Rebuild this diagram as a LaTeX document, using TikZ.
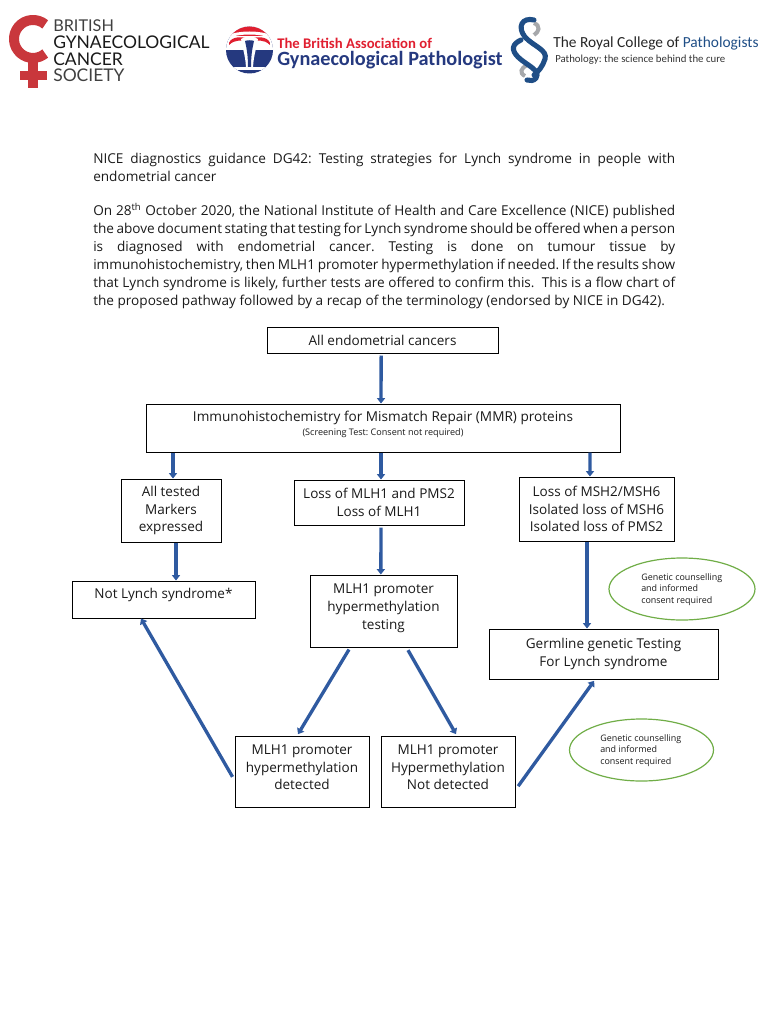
\documentclass[tikz,border=0pt]{standalone}
\usepackage{fontspec}
\setmainfont{Open Sans}
\newfontfamily\logofont{Carlito}
\newfontfamily\latofont{Lato}
\usetikzlibrary{arrows.meta}
\definecolor{arrowblue}{HTML}{2F5AA0}
\definecolor{okgreen}{HTML}{70AD47}
\definecolor{bgcsred}{HTML}{C9373C}
\definecolor{bagpred}{HTML}{E01F30}
\definecolor{bagpblue}{HTML}{25397F}
\definecolor{rcblue}{HTML}{1F4E86}
\definecolor{rcgrey}{HTML}{A6A8AB}
\definecolor{inktext}{HTML}{1A1A1A}
\newcommand{\lifted}[1]{\raisebox{2.25pt}[\height][\depth]{\begin{tabular}{@{}c@{}}#1\end{tabular}}}
\tikzset{
  flowbox/.style={draw=black,line width=0.75pt,fill=white,minimum width=#1,align=center,inner sep=0pt,font=\fontsize{10.15}{13.2}\selectfont,text=inktext},
  flowarrow/.style={draw=arrowblue,line width=2.5pt,-{Triangle[length=4pt,width=6pt]}},
  smallnote/.style={font=\fontsize{6.7}{8.8}\selectfont,align=left,anchor=west,inner sep=0pt,text=inktext},
  para/.style={anchor=north west,text width=436.5pt,inner sep=0pt,align=justify,font=\fontsize{10.2}{13.5}\selectfont,text=inktext},
  logoline/.style={anchor=west,inner sep=0pt},
}
\frenchspacing
\begin{document}
\begin{tikzpicture}[x=0.75pt,y=-0.75pt]
\useasboundingbox (0,0) rectangle (768,1024);
% BGCS logo
\draw[bgcsred,line width=7.5pt] (45.2,24.4) arc[start angle=-50,end angle=-310,radius=19];
\fill[bgcsred] (28,60) rectangle (38,88);
\fill[bgcsred] (20,71) rectangle (47,80);
\node[logoline,font=\latofont\fontsize{12.2}{12}\selectfont,text=black!75] (bgcs1) at (53,26) {BRITISH};
\node[logoline,font=\latofont\fontsize{13.1}{12}\selectfont,text=black!90] (bgcs2) at (53,42) {GYNAECOLOGICAL};
\node[logoline,font=\latofont\fontsize{13.1}{12}\selectfont,text=black!90] (bgcs3) at (53,59) {CANCER};
\node[logoline,font=\latofont\fontsize{13.1}{12}\selectfont,text=black!75] (bgcs4) at (53,75) {SOCIETY};
% BAGP logo
\fill[bagpblue] (249.5,50) circle[radius=23.5];
\begin{scope}
\clip (249.5,50) circle[radius=23.5];
\fill[white] (220,24) rectangle (280,50);
\fill[bagpred] (226,26) rectangle (273,36);
\fill[bagpred] (229,45) .. controls (228,38) and (240,35) .. (248,39) -- (251,39) .. controls (259,35) and (271,38) .. (270,45) .. controls (264,39) and (256,40) .. (250,42) .. controls (243,40) and (235,39) .. (229,45) -- cycle;
\fill[white] (226,36) .. controls (238,30) and (261,30) .. (273,36) -- (273,39) .. controls (261,33) and (238,33) .. (226,39) -- cycle;
\fill[white] (241,39) .. controls (245,36) and (254,36) .. (258,39) .. controls (256,50) and (253,58) .. (253,70) -- (246,70) .. controls (246,58) and (243,50) .. (241,39) -- cycle;
\fill[bagpblue] (245,41) .. controls (247,40) and (252,40) .. (254,41) .. controls (252,50) and (251,56) .. (251,68) -- (248,68) .. controls (248,56) and (247,50) .. (245,41) -- cycle;
\fill[white] (232,67) rectangle (267,70);
\end{scope}
\node[logoline,font=\logofont\bfseries\fontsize{11.05}{12}\selectfont,text=bagpred] (bagp1) at (277,43) {The British Association of};
\node[logoline,font=\logofont\bfseries\fontsize{15.2}{16}\selectfont,text=bagpblue] (bagp2) at (277,60) {Gynaecological Pathologist};
% RCPath logo
\draw[rcgrey,line width=3pt] (534,23) .. controls (541,26) and (539,32) .. (534,35);
\draw[rcgrey,line width=3pt] (525,76) .. controls (519,73) and (521,68) .. (527,65);
\draw[rcblue,line width=3.8pt,line cap=round] (534,20) .. controls (522,17) and (517,27) .. (525,37) .. controls (533,46) and (548,50) .. (545,59) .. controls (543,66) and (538,72) .. (534,75);
\draw[rcblue,line width=3.8pt,line cap=round] (521,40) .. controls (512,44) and (511,50) .. (518,57) .. controls (526,65) and (541,70) .. (536,78) .. controls (534,81) and (530,81) .. (527,80);
\node[logoline,font=\logofont\fontsize{11.55}{14}\selectfont,text=black!85] (rc1) at (553,43) {The Royal College of \textcolor{rcblue}{Pathologists}};
\node[logoline,font=\logofont\fontsize{8.1}{10}\selectfont,text=black!80] (rc2) at (555,60) {Pathology: the science behind the cure};
% Text
\node[para] (title) at (93,153) {NICE diagnostics guidance DG42: Testing strategies for Lynch syndrome in people with\linebreak endometrial cancer};
\node[para] (intro) at (93,203) {On 28\textsuperscript{th} October 2020, the National Institute of Health and Care Excellence (NICE) published\linebreak the above document stating that testing for Lynch syndrome should be offered when a person\linebreak is diagnosed with endometrial cancer. Testing is done on tumour tissue by\linebreak immunohistochemistry, then MLH1 promoter hypermethylation if needed. If the results show\linebreak that Lynch syndrome is likely, further tests are offered to confirm this.\ \ This is a flow chart of\linebreak the proposed pathway followed by a recap of the terminology (endorsed by NICE in DG42).};
% Boxes
\node[flowbox=173.25pt,minimum height=19.5pt] (all) at (382.5,340) {All endometrial cancers};
\node[flowbox=355.5pt,minimum height=36pt,anchor=center] (ihc) at (383,428) {};
\node[inner sep=0pt,font=\fontsize{10.2}{12}\selectfont,text=inktext] (ihct) at (383,418) {Immunohistochemistry for Mismatch Repair (MMR) proteins};
\node[inner sep=0pt,font=\fontsize{6.8}{7}\selectfont,text=inktext] (ihcs) at (383,433) {(Screening Test: Consent not required)};
\node[flowbox=75pt,minimum height=47.25pt] (expr) at (171,510.5) {All tested\\Markers\\expressed};
\node[flowbox=127.5pt,minimum height=33.75pt] (mlh) at (379,502.5) {Loss of MLH1 and PMS2\\Loss of MLH1};
\node[flowbox=116.25pt,minimum height=48pt] (msh) at (596.5,509) {Loss of MSH2/MSH6\\Isolated loss of MSH6\\Isolated loss of PMS2};
\node[flowbox=137.25pt,minimum height=27.75pt] (notl) at (163.5,599.5) {\raisebox{3.2pt}[\height][\depth]{Not Lynch syndrome*}};
\node[flowbox=110.25pt,minimum height=54pt] (test) at (383.5,611) {\lifted{MLH1 promoter\\hypermethylation\\testing}};
\node[flowbox=171.75pt,minimum height=37.5pt] (germ) at (603.5,654) {Germline genetic Testing\\For Lynch syndrome};
\node[flowbox=100.5pt,minimum height=53.25pt] (det) at (302,771.5) {\lifted{MLH1 promoter\\hypermethylation\\detected}};
\node[flowbox=100.5pt,minimum height=53.25pt] (nd) at (448,771.5) {\lifted{MLH1 promoter\\Hypermethylation\\Not detected}};
% Ellipses
\draw[okgreen,line width=0.9pt] (682,589) ellipse[x radius=73,y radius=31];
\draw[okgreen,line width=0.9pt] (641.5,750) ellipse[x radius=72,y radius=31];
\node[smallnote] (n1) at (641,589.5) {Genetic counselling\\and informed\\consent required};
\node[smallnote] (n2) at (600,750.5) {Genetic counselling\\and informed\\consent required};
% Arrows
\draw[flowarrow] ([yshift=-1.5pt,xshift=-1pt]all.south) -- ([xshift=-1.5pt]ihc.north);
\draw[flowarrow] (ihc.south -| 173,0) -- ([xshift=1.5pt]expr.north);
\draw[flowarrow] (ihc.south -| 381,0) -- ([xshift=1.5pt]mlh.north);
\draw[flowarrow] (ihc.south -| 590,0) -- ([xshift=-4.9pt]msh.north);
\draw[flowarrow] ([xshift=3.75pt]expr.south) -- (notl.north -| 176,0);
\draw[flowarrow] ([xshift=1.5pt,yshift=-1.5pt]mlh.south) -- ([xshift=-2pt]test.north);
\draw[flowarrow] (msh.south -| 587,0) -- (germ.north -| 587,0);
\draw[flowarrow] ([yshift=-1.5pt]test.south -| 349,0) -- ([xshift=-3pt,yshift=1pt]det.north);
\draw[flowarrow] ([yshift=-2pt]test.south -| 408,0) -- ([xshift=6pt,yshift=1pt]nd.north);
\draw[flowarrow] ([xshift=-1.5pt,yshift=-4pt]det.west) -- (notl.south -| 141,0);
\draw[flowarrow] ([xshift=2pt,yshift=-11pt]nd.east) -- ([xshift=-7pt,yshift=-1pt]germ.south);
\end{tikzpicture}
\end{document}
